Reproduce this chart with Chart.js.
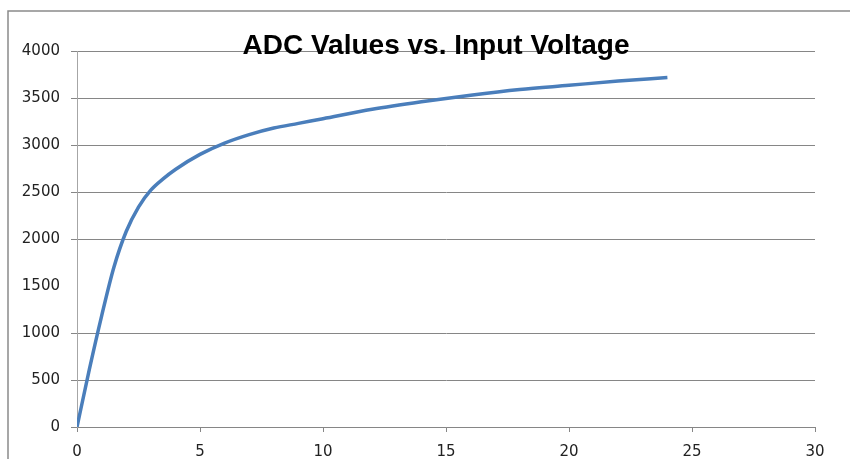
<!DOCTYPE html>
<html>
<head>
<meta charset="utf-8">
<title>ADC Values vs. Input Voltage</title>
<script src="https://cdn.jsdelivr.net/npm/chart.js@4/dist/chart.umd.min.js"></script>
<style>
  html, body { margin: 0; padding: 0; background: #fff; }
  #wrap { width: 850px; height: 459px; position: relative; }
</style>
</head>
<body>
<div id="wrap"><canvas id="chart"></canvas></div>
<script>
// Input voltage (V) and the ADC reading at that voltage
const voltage = [0, 0.5, 1, 1.5, 2, 2.5, 3, 3.5, 4, 5, 6, 7, 8, 9, 10, 12, 14, 16, 18, 20, 22, 24];
const adcValue = [0, 610, 1180, 1700, 2080, 2340, 2520, 2640, 2740, 2900, 3020, 3110, 3180, 3230, 3280, 3380, 3460, 3530, 3590, 3635, 3680, 3718];

const chartTitle = 'ADC Values vs. Input Voltage';
const xTicks = [0, 5, 10, 15, 20, 25, 30];
const yTicks = [0, 500, 1000, 1500, 2000, 2500, 3000, 3500, 4000];

const points = voltage.map((v, i) => ({ x: v, y: adcValue[i] }));

const gridGrey = '#868686';

// Excel-style outer frame and the title laid over the plot area
const decorations = {
  id: 'decorations',
  beforeDraw(chart) {
    const ctx = chart.ctx;
    ctx.save();
    ctx.strokeStyle = '#8a8a8a';
    ctx.lineWidth = 1.5;
    ctx.beginPath();
    ctx.moveTo(8, 459);
    ctx.lineTo(8, 11);
    ctx.lineTo(850, 11);
    ctx.stroke();
    ctx.restore();
  },
  afterDraw(chart) {
    const ctx = chart.ctx;
    ctx.save();
    ctx.font = 'bold 28px "Liberation Sans", Arial, sans-serif';
    ctx.fillStyle = '#000';
    ctx.textAlign = 'center';
    ctx.textBaseline = 'alphabetic';
    ctx.fillText(chartTitle, 436, 54);
    ctx.restore();
  }
};

const tickFont = { family: '"DejaVu Sans", sans-serif', size: 15 };

const config = {
  type: 'scatter',
  data: {
    datasets: [{
      label: 'ADC',
      data: points,
      showLine: true,
      borderColor: '#4a7ebb',
      backgroundColor: '#4a7ebb',
      borderWidth: 3.5,
      pointRadius: 0,
      cubicInterpolationMode: 'monotone'
    }]
  },
  options: {
    responsive: false,
    animation: false,
    layout: { padding: { left: 0, right: 35, top: 51, bottom: 0 } },
    plugins: {
      legend: { display: false },
      title: { display: false },
      tooltip: { enabled: false }
    },
    scales: {
      x: {
        type: 'linear',
        min: 0,
        max: 30,
        afterBuildTicks: s => { s.ticks = xTicks.map(v => ({ value: v })); },
        afterFit: s => { s.height = 32; },
        grid: { display: true, drawOnChartArea: false, drawTicks: true, tickLength: 5, color: gridGrey },
        border: { color: gridGrey, width: 1 },
        ticks: {
          padding: 11,
          color: '#222',
          font: tickFont,
          callback: v => String(v)
        }
      },
      y: {
        type: 'linear',
        min: 0,
        max: 4000,
        afterBuildTicks: s => { s.ticks = yTicks.map(v => ({ value: v })); },
        afterFit: s => { s.width = 77; },
        grid: {
          drawTicks: true,
          tickLength: 6,
          color: c => (c.tick && c.tick.value === 1500) ? 'rgba(0,0,0,0)' : gridGrey
        },
        border: { color: '#a6a6a6', width: 1 },
        ticks: {
          padding: 11,
          color: '#222',
          font: tickFont,
          callback: v => String(v)
        }
      }
    }
  },
  plugins: [decorations]
};

const canvas = document.getElementById('chart');
canvas.width = 850;
canvas.height = 459;
const myChart = new Chart(canvas, config);
</script>
</body>
</html>
